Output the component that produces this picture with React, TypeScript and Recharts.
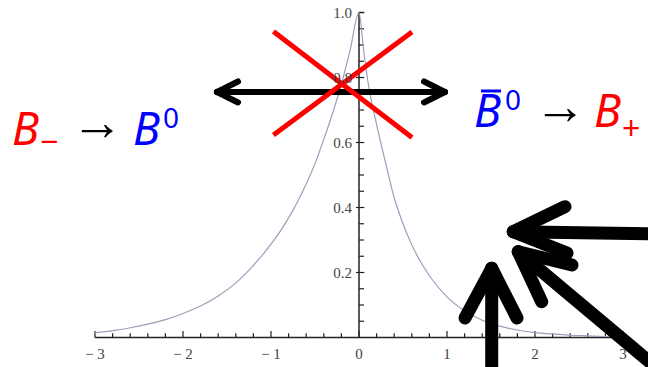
import React from 'react';
import { LineChart, Line, XAxis, YAxis, ReferenceLine, ReferenceDot } from 'recharts';

// ---- data ----
const xValues = [-3, -2.8, -2.6, -2.4, -2.2, -2, -1.8, -1.6, -1.4, -1.2, -1, -0.9, -0.8, -0.7, -0.6, -0.5, -0.4, -0.3, -0.2, -0.1, 0,
  0.05, 0.1, 0.2, 0.3, 0.4, 0.5, 0.6, 0.8, 1, 1.2, 1.4, 1.6, 1.8, 2, 2.2, 2.4, 2.6, 2.8, 3];
const yValues = [0.015, 0.021, 0.03, 0.041, 0.055, 0.074, 0.097, 0.128, 0.168, 0.222, 0.287, 0.325, 0.368, 0.417, 0.472, 0.535, 0.61, 0.69, 0.78, 0.885, 1.0,
  0.89, 0.79, 0.655, 0.54, 0.43, 0.35, 0.285, 0.19, 0.125, 0.082, 0.053, 0.035, 0.023, 0.015, 0.011, 0.007, 0.005, 0.003, 0.002];

const xMajorTicks = [-3, -2, -1, 0, 1, 2, 3];
const xMinorTicks = [-2.8, -2.6, -2.4, -2.2, -1.8, -1.6, -1.4, -1.2, -0.8, -0.6, -0.4, -0.2,
  0.2, 0.4, 0.6, 0.8, 1.2, 1.4, 1.6, 1.8, 2.2, 2.4, 2.6, 2.8];
const yMajorTicks = [0.2, 0.4, 0.6, 0.8];
const yTopTick = 1.0;
const yMinorTicks = [0.05, 0.1, 0.15, 0.25, 0.3, 0.35, 0.45, 0.5, 0.55, 0.65, 0.7, 0.75, 0.85, 0.9, 0.95];
const yLabelTicks = [0.2, 0.4, 0.6, 0.8, 1.0];
const yTickLabels = ['0.2', '0.4', '0.6', '0.8', '1.0'];

const data = xValues.map((x, i) => ({ x, y: yValues[i] }));

// annotation geometry (data units)
type Seg = [[number, number], [number, number]];
const doubleArrow: Seg[] = [
  [[-1.614, 0.7554], [0.977, 0.7554]],
  [[-1.614, 0.7554], [-1.375, 0.7877]],
  [[-1.614, 0.7554], [-1.375, 0.7231]],
  [[0.977, 0.7554], [0.739, 0.7877]],
  [[0.977, 0.7554], [0.739, 0.7231]],
];
const redCross: Seg[] = [
  [[-0.972, 0.9415], [0.602, 0.6154]],
  [[-0.972, 0.623], [0.602, 0.94]],
];
const bigArrows: Seg[] = [
  // left-pointing
  [[3.42, 0.3185], [1.7534, 0.3255]],
  [[1.7534, 0.3255], [2.341, 0.4025]],
  [[1.7534, 0.3255], [2.3636, 0.26]],
  // diagonal
  [[3.534, -0.1277], [1.81, 0.264]],
  [[1.81, 0.264], [2.4205, 0.2231]],
  [[1.81, 0.264], [2.076, 0.1102]],
  // vertical
  [[1.508, -0.14], [1.508, 0.2129]],
  [[1.508, 0.2129], [1.2045, 0.06]],
  [[1.508, 0.2129], [1.7955, 0.06]],
];

const leftLabelAnchor = { x: -3.943, y: 0.5923 };
const rightLabelAnchor = { x: 1.307, y: 0.6477 };

const RED = '#ff0000';
const BLUE = '#0000ff';
const MATH = '"Noto Sans", "DejaVu Sans", sans-serif';
const ARROWF = '"Liberation Serif", "DejaVu Serif", serif';
const AXIS = '#222';
const LABEL = '#444';
const SERIF = '"Liberation Serif", "DejaVu Serif", serif';

const fmtX = (v: number) => (v < 0 ? `\u2212 ${Math.abs(v)}` : `${v}`);

const Arrow = ({ x, y }: { x: number; y: number }) => (
  <text x={x} y={y} fill="#000" fontFamily={ARROWF} fontSize={52}>{'\u2192'}</text>
);

const LeftLabel = (props: any) => {
  const { cx, cy } = props;
  return (
    <g>
      <text x={cx} y={cy} fill={RED} fontFamily={MATH} fontStyle="italic" fontSize={45}>B</text>
      <text x={cx + 28} y={cy + 8} fill={RED} fontFamily={MATH} fontSize={32}>{'\u2212'}</text>
      <Arrow x={cx + 59} y={cy - 5} />
      <text x={cx + 121} y={cy} fill={BLUE} fontFamily={MATH} fontStyle="italic" fontSize={45}>B</text>
      <text x={cx + 151} y={cy - 17} fill={BLUE} fontFamily={MATH} fontSize={28}>0</text>
    </g>
  );
};

const RightLabel = (props: any) => {
  const { cx, cy } = props;
  return (
    <g>
      <text x={cx} y={cy} fill={BLUE} fontFamily={MATH} fontStyle="italic" fontSize={45}>B</text>
      <line x1={cx + 7} y1={cy - 36} x2={cx + 27} y2={cy - 36} stroke={BLUE} strokeWidth={3} />
      <text x={cx + 31} y={cy - 17} fill={BLUE} fontFamily={MATH} fontSize={28}>0</text>
      <Arrow x={cx + 60} y={cy - 3} />
      <text x={cx + 120} y={cy} fill={RED} fontFamily={MATH} fontStyle="italic" fontSize={45}>B</text>
      <text x={cx + 148} y={cy + 13} fill={RED} fontFamily={MATH} fontSize={32}>+</text>
    </g>
  );
};

const makeYLabel = (txt: string) => (props: any) => (
  <text x={props.cx - 7} y={props.cy} dy="0.35em" textAnchor="end" fill={LABEL} fontFamily={SERIF} fontSize={15}>{txt}</text>
);

const seg = (s: Seg) => [{ x: s[0][0], y: s[0][1] }, { x: s[1][0], y: s[1][1] }];

export default function App() {
  return (
    <div style={{ position: 'absolute', left: 0, top: 0, width: 648, height: 367, background: '#fff', overflow: 'hidden' }}>
      <LineChart width={648} height={367} data={data} margin={{ top: 12.5, right: 25, left: 95, bottom: 4.5 }}>
        <XAxis
          dataKey="x"
          type="number"
          domain={[-3, 3]}
          ticks={xMajorTicks}
          tickFormatter={fmtX}
          axisLine={false}
          tickLine={false}
          height={25}
          tickMargin={5}
          allowDataOverflow
          tick={{ fill: LABEL, fontFamily: SERIF, fontSize: 15 }}
        />
        <YAxis type="number" domain={[0, 1]} hide allowDataOverflow />

        {/* axes */}
        <ReferenceLine segment={[{ x: -3, y: 0 }, { x: 3, y: 0 }]} stroke={AXIS} strokeWidth={1.5} />
        <ReferenceLine segment={[{ x: 0, y: 0 }, { x: 0, y: 1 }]} stroke={AXIS} strokeWidth={1.5} />
        {xMajorTicks.map((t) => (
          <ReferenceLine key={`xM${t}`} segment={[{ x: t, y: 0 }, { x: t, y: 0.02 }]} stroke={AXIS} strokeWidth={1.2} />
        ))}
        {xMinorTicks.map((t) => (
          <ReferenceLine key={`xm${t}`} segment={[{ x: t, y: 0 }, { x: t, y: 0.013 }]} stroke={AXIS} strokeWidth={1.2} />
        ))}
        {yMajorTicks.map((t) => (
          <ReferenceLine key={`yM${t}`} segment={[{ x: -0.034, y: t }, { x: 0.06, y: t }]} stroke={AXIS} strokeWidth={1.2} />
        ))}
        <ReferenceLine segment={[{ x: 0, y: yTopTick }, { x: 0.06, y: yTopTick }]} stroke={AXIS} strokeWidth={1.5} />
        {yMinorTicks.map((t) => (
          <ReferenceLine key={`ym${t}`} segment={[{ x: 0, y: t }, { x: 0.057, y: t }]} stroke={AXIS} strokeWidth={1.2} />
        ))}
        {yLabelTicks.map((t, i) => (
          <ReferenceDot key={`yl${t}`} x={0} y={t} r={0} shape={makeYLabel(yTickLabels[i])} ifOverflow="visible" />
        ))}

        <Line type="monotone" dataKey="y" stroke="#9d9dbb" strokeWidth={1.2} dot={false} isAnimationActive={false} />

        {/* annotations */}
        {doubleArrow.map((s, i) => (
          <ReferenceLine key={`da${i}`} segment={seg(s)} stroke="#000" strokeWidth={6} strokeLinecap="round" ifOverflow="visible" />
        ))}
        {redCross.map((s, i) => (
          <ReferenceLine key={`rc${i}`} segment={seg(s)} stroke={RED} strokeWidth={5} ifOverflow="visible" />
        ))}
        {bigArrows.map((s, i) => (
          <ReferenceLine key={`ba${i}`} segment={seg(s)} stroke="#000" strokeWidth={13} strokeLinecap="round" ifOverflow="visible" />
        ))}
        <ReferenceDot x={leftLabelAnchor.x} y={leftLabelAnchor.y} r={0} shape={LeftLabel} ifOverflow="visible" />
        <ReferenceDot x={rightLabelAnchor.x} y={rightLabelAnchor.y} r={0} shape={RightLabel} ifOverflow="visible" />
      </LineChart>
    </div>
  );
}
